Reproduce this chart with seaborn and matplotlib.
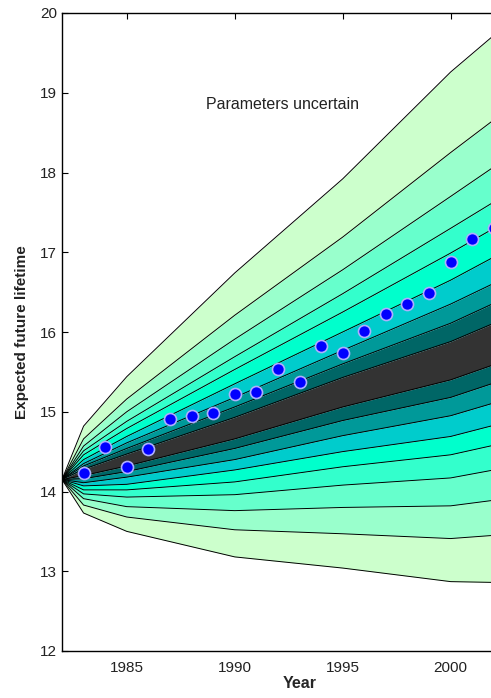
import matplotlib
matplotlib.use("Agg")
import matplotlib.pyplot as plt
import seaborn as sns
import numpy as np

# -----------------------------
# Data
# -----------------------------
knot_years = [1982, 1983, 1985, 1990, 1995, 2000, 2002]

# upper band boundaries, innermost (top of dark band) to outermost
upper_lines = [
    [14.15, 14.28, 14.47, 14.93, 15.43, 15.88, 16.11],
    [14.15, 14.32, 14.54, 15.06, 15.60, 16.11, 16.36],
    [14.15, 14.35, 14.61, 15.18, 15.77, 16.35, 16.61],
    [14.15, 14.40, 14.69, 15.35, 16.00, 16.65, 16.94],
    [14.15, 14.46, 14.79, 15.53, 16.25, 16.99, 17.30],
    [14.15, 14.51, 14.88, 15.69, 16.48, 17.30, 17.63],
    [14.15, 14.57, 15.00, 15.91, 16.78, 17.70, 18.07],
    [14.15, 14.66, 15.16, 16.21, 17.19, 18.25, 18.66],
    [14.15, 14.82, 15.44, 16.74, 17.92, 19.26, 19.72],
]
# lower band boundaries, innermost (bottom of dark band) to outermost
lower_lines = [
    [14.15, 14.20, 14.32, 14.66, 15.06, 15.40, 15.59],
    [14.15, 14.16, 14.25, 14.54, 14.89, 15.18, 15.36],
    [14.15, 14.11, 14.18, 14.40, 14.70, 14.95, 15.11],
    [14.15, 14.07, 14.09, 14.27, 14.50, 14.69, 14.83],
    [14.15, 14.02, 14.02, 14.12, 14.31, 14.46, 14.58],
    [14.15, 13.97, 13.93, 13.96, 14.08, 14.17, 14.27],
    [14.15, 13.91, 13.81, 13.76, 13.80, 13.82, 13.89],
    [14.15, 13.83, 13.68, 13.52, 13.47, 13.41, 13.45],
    [14.15, 13.73, 13.50, 13.18, 13.04, 12.87, 12.86],
]

# band colours, innermost to outermost (the centre band is the dark one)
center_color = "#333333"
band_colors = ["#006666", "#009999", "#00CCCC", "#00FFCC",
               "#33FFCC", "#66FFCC", "#99FFCC", "#CCFFCC"]

obs_years = list(range(1983, 2003))
obs_values = [14.23, 14.56, 14.31, 14.53, 14.91, 14.95, 14.98, 15.22, 15.25, 15.54,
              15.37, 15.82, 15.74, 16.01, 16.22, 16.35, 16.49, 16.88, 17.16, 17.30]

# -----------------------------
# Plot
# -----------------------------
sns.set_style("white")
plt.rcParams["font.family"] = ["Liberation Sans", "DejaVu Sans"]

fig = plt.figure(figsize=(4.91, 6.98), dpi=100)
ax = fig.add_axes([62 / 491, 47 / 698, 475 / 491, 638 / 698])

# centre dark band
ax.fill_between(knot_years, lower_lines[0], upper_lines[0], color=center_color, lw=0)
# outer bands, both sides
for i, col in enumerate(band_colors):
    ax.fill_between(knot_years, upper_lines[i], upper_lines[i + 1], color=col, lw=0)
    ax.fill_between(knot_years, lower_lines[i + 1], lower_lines[i], color=col, lw=0)

for line in upper_lines + lower_lines:
    sns.lineplot(x=knot_years, y=line, ax=ax, color="black", lw=0.7, estimator=None)

sns.scatterplot(x=obs_years, y=obs_values, ax=ax, s=75, color="#0000FF",
                edgecolor="#AFAFFF", linewidth=1.2, zorder=5, clip_on=True)

ax.text(1992.2, 18.85, "Parameters uncertain", ha="center", va="center", fontsize=11.5,
        color="#222222")

ax.set_xlim(1982, 2004)
ax.set_ylim(12, 20)
ax.set_xticks([1985, 1990, 1995, 2000])
ax.set_yticks([12, 13, 14, 15, 16, 17, 18, 19, 20])
ax.tick_params(axis="x", direction="in", bottom=False, top=True, length=4,
               labelsize=11, pad=7, colors="black", labelcolor="#222222")
ax.tick_params(axis="y", direction="in", left=True, length=4,
               labelsize=11, pad=3.5, colors="black", labelcolor="#222222")

for side in ["left", "bottom", "top"]:
    ax.spines[side].set_color("black")
    ax.spines[side].set_linewidth(1.0)
ax.spines["right"].set_visible(False)

ax.set_xlabel("Year", fontsize=11.5, fontweight="bold", labelpad=1)
ax.set_ylabel("Expected future lifetime", fontsize=11, fontweight="bold", labelpad=8,
              color="#222222")

fig.savefig("out.png", dpi=100)
